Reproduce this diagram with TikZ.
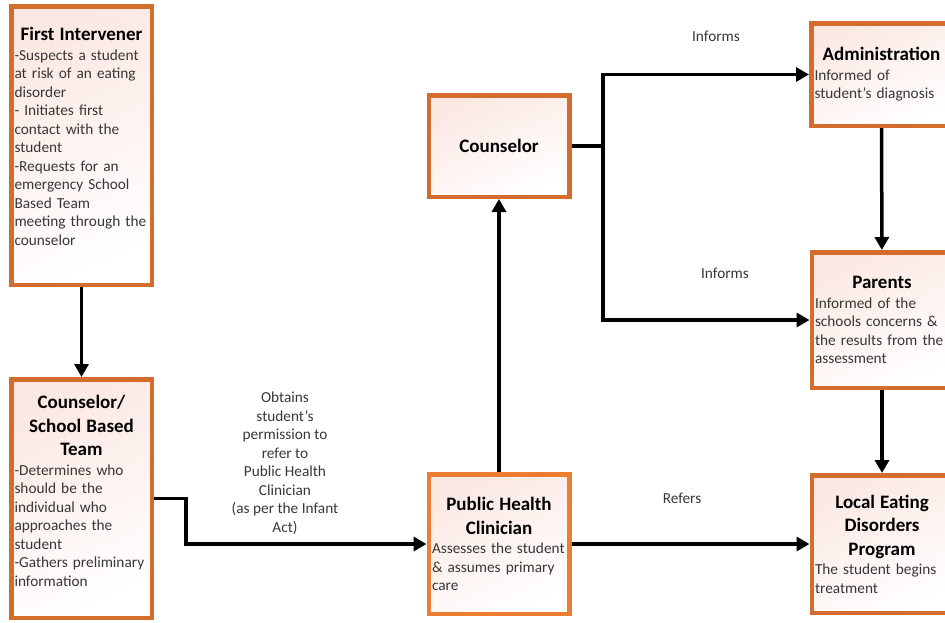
\documentclass[tikz,border=0pt]{standalone}
\usepackage{fontspec}
\setmainfont{Carlito}
\usepackage{xcolor}
\usepackage{tikz}
\usetikzlibrary{arrows.meta}
\usetikzlibrary{positioning}

\definecolor{boxedge}{RGB}{211,108,44}
\definecolor{boxbright}{RGB}{237,125,49}
\definecolor{boxtint}{RGB}{251,232,226}
\definecolor{bodygray}{RGB}{55,55,55}

\newcommand{\boxtitle}[1]{{\centering\fontsize{19}{23.5}\selectfont\bfseries\color{black}#1\par}\vspace{1pt}}

\begin{document}
\begin{tikzpicture}[x=1pt,y=-1pt,
  box/.style={draw=boxedge,line width=4.5pt,top color=boxtint,bottom color=white,shading angle=25,
    minimum width=140.5pt,text width=134pt,inner xsep=3pt,inner ysep=0pt,
    font=\fontsize{15.3}{18.5}\selectfont,text=bodygray},
  lbl/.style={font=\fontsize{15.3}{18.5}\selectfont,text=bodygray,align=center},
  wire/.style={line width=3.5pt},
  flow/.style={wire,-{Triangle[length=13pt,width=14pt]}}]
\useasboundingbox (0,0) rectangle (945,622);

% boxes
\node [box,minimum height=278.5pt] (fi) at (81.5,145.5)
  {\boxtitle{First Intervener}\raggedright -Suspects a student\\at risk of an eating\\disorder\\- Initiates first\\contact with the\\student\\-Requests for an\\emergency School\\Based Team\\meeting through the\\counselor\\\mbox{}};
\node [box,minimum height=238.5pt] (csbt) at (81.5,498.5)
  {\boxtitle{Counselor/\\School Based\\Team}\raggedright -Determines who\\should be the\\individual who\\approaches the\\student\\-Gathers preliminary\\information\\[-3pt]\mbox{}};
\node [box,minimum height=101.5pt] (couns) at (499,146) {\boxtitle{Counselor}};
\node [box,draw=boxbright,minimum height=139.5pt] (phc) at (499,544)
  {\boxtitle{Public Health\\Clinician}\raggedright Assesses the student\\\& assumes primary\\care};
\node [box,minimum height=102.5pt] (admin) at (881.5,74.5)
  {\boxtitle{Administration}\raggedright Informed of\\student’s diagnosis};
\node [box,minimum height=135.5pt] (parents) at (882,320)
  {\boxtitle{Parents}\raggedright Informed of the\\schools concerns \&\\the results from the\\assessment};
\node [box,minimum height=137.5pt] (led) at (882,544)
  {\boxtitle{Local Eating\\Disorders\\Program}\raggedright The student begins\\treatment};

% labels
\node [lbl] (permit) at (285,463) {Obtains\\student’s\\permission to\\refer to\\Public Health\\Clinician\\(as per the Infant\\Act)};
\node [lbl] (inf1) at (716,36) {Informs};
\node [lbl] (inf2) at (725,273) {Informs};
\node [lbl] (refers) at (682,498) {Refers};

% connectors
\coordinate (split) at (603,146);
\draw [flow] (fi) -- (csbt);
\draw [flow] (csbt.east) -- ++(32,0) |- (phc.west);
\draw [flow] (phc) -- (couns);
\draw [wire] (couns.east) -- (split);
\draw [flow] (split) |- (admin.west);
\draw [flow] (split) |- (parents.west);
\draw [flow] (admin) -- (parents);
\draw [flow] (parents) -- (led);
\draw [flow] (phc) -- (led);
\end{tikzpicture}
\end{document}
